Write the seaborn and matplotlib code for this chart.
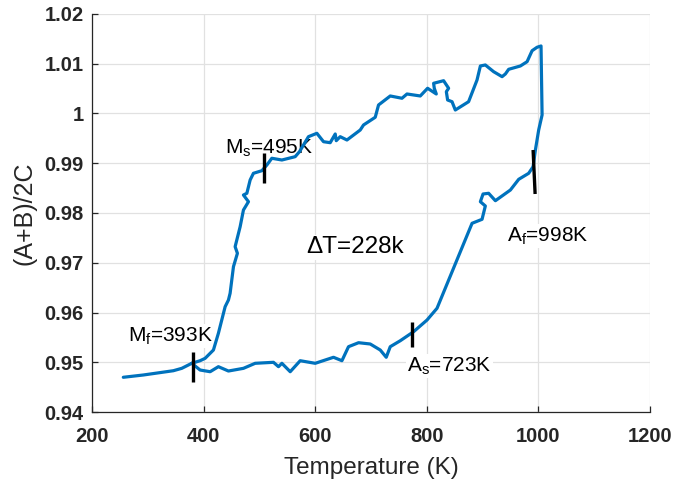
import numpy as np
import pandas as pd
import matplotlib
matplotlib.use("Agg")
import matplotlib.pyplot as plt
import seaborn as sns

# Hysteresis loop: one continuous trace of (A+B)/2C against temperature
temperature = [
    256.1, 292.0, 345.8, 360.9, 378.8,
    393.7, 411.7, 426.5, 444.5, 471.4, 492.4, 525.2, 534.2, 540.3, 555.2,
    573.1, 600.0, 632.8, 647.9, 659.7, 677.7, 698.6, 716.6, 727.3, 734.5,
    752.5, 776.3, 800.4, 818.3, 881.1, 899.0, 904.9, 896.0, 900.8, 910.8,
    922.9, 949.8, 964.7, 982.6, 990.5, 994.6, 1000.5, 1006.6,
    1004.7, 997.6, 988.7, 979.7, 967.7, 946.7, 940.8, 934.9, 919.8, 904.9,
    896.0, 890.0, 874.9, 851.1, 845.2, 837.3, 835.0, 839.1, 830.1, 812.2,
    813.4, 817.0, 801.4, 788.3, 764.5, 755.5, 734.5, 713.5, 707.6, 686.6,
    680.7, 656.9, 644.8, 637.7, 635.9, 626.9, 614.9, 603.0, 587.9, 571.8,
    564.1, 540.3, 522.3, 513.4, 504.4, 489.3, 483.4, 477.5, 471.4, 480.4,
    471.4, 465.5, 456.5, 460.6, 453.5, 447.5, 444.5, 438.6, 426.5, 417.6,
    402.7, 393.7, 378.8,
]
ratio = [
    0.94698, 0.94744, 0.94830, 0.94878, 0.94979,
    0.94844, 0.94810, 0.94911, 0.94824, 0.94878, 0.94979, 0.94999, 0.94911,
    0.94979, 0.94810, 0.95031, 0.94979, 0.95100, 0.95031, 0.95313, 0.95393,
    0.95367, 0.95246, 0.95100, 0.95313, 0.95433, 0.95614, 0.95849, 0.96085,
    0.97793, 0.97873, 0.98141, 0.98227, 0.98382, 0.98396, 0.98247, 0.98462,
    0.98677, 0.98798, 0.98931, 0.99266, 0.99668, 0.99970,
    1.01357, 1.01331, 1.01262, 1.01041, 1.00955, 1.00888, 1.00794, 1.00740,
    1.00840, 1.00975, 1.00955, 1.00673, 1.00237, 1.00070, 1.00237, 1.00271,
    1.00438, 1.00507, 1.00659, 1.00607, 1.00507, 1.00392, 1.00507, 1.00352,
    1.00392, 1.00306, 1.00352, 1.00171, 0.99924, 0.99769, 0.99668, 0.99467,
    0.99534, 0.99453, 0.99588, 0.99413, 0.99433, 0.99602, 0.99534, 0.99232,
    0.99132, 0.99065, 0.99100, 0.98965, 0.98850, 0.98798, 0.98663, 0.98396,
    0.98362, 0.98227, 0.98060, 0.97725, 0.97323, 0.97190, 0.96921, 0.96386,
    0.96251, 0.96117, 0.95582, 0.95246, 0.95079, 0.95031, 0.94979,
]

# Transformation temperature markers (short vertical bars)
marker_T_top = [380.6, 509.1, 774.0, 990.5]
marker_T_bottom = [380.6, 509.1, 774.0, 994.1]
marker_top = [0.95206, 0.99206, 0.95815, 0.99266]
marker_bottom = [0.94603, 0.98603, 0.95313, 0.98382]

# Annotation texts, anchor points and stacking order of their white boxes
labels = [r"$\mathregular{M_f}$=393K", r"$\mathregular{M_s}$=495K",
          r"$\mathregular{A_s}$=723K", r"$\mathregular{A_f}$=998K", "ΔT=228k"]
label_T = [264.6, 438.6, 765.0, 944.4, 583.9]
label_v = [0.95413, 0.99186, 0.94810, 0.97423, 0.97190]
label_z = [2.5, 2.5, 4.0, 2.5, 2.5]

x_ticks = [200, 400, 600, 800, 1000, 1200]
y_ticks = [0.94, 0.95, 0.96, 0.97, 0.98, 0.99, 1.00, 1.01, 1.02]
y_tick_labels = ["0.94", "0.95", "0.96", "0.97", "0.98", "0.99", "1", "1.01", "1.02"]

sns.set_theme(style="whitegrid")
plt.rcParams["font.family"] = ["Liberation Sans", "DejaVu Sans"]
plt.rcParams["mathtext.fontset"] = "custom"
plt.rcParams["mathtext.rm"] = "Liberation Sans"

fig = plt.figure(figsize=(6.74, 4.82), dpi=100)
ax = fig.add_axes([0.1365, 0.1452, 0.8279, 0.8258])

df = pd.DataFrame({"T": temperature, "v": ratio})
sns.lineplot(data=df, x="T", y="v", sort=False, estimator=None,
             color="#0072BD", linewidth=2.3, ax=ax, zorder=3)

# black bars cross over the curve
for t0, t1, y0, y1 in zip(marker_T_top, marker_T_bottom, marker_top, marker_bottom):
    ax.plot([t0, t1], [y0, y1], color="black", linewidth=2.4, zorder=3.5,
            solid_capstyle="butt")

for txt, tx, ty, z in zip(labels, label_T, label_v, label_z):
    size = 17.5 if txt.startswith("Δ") else 15
    ax.text(tx, ty, txt, fontsize=size, color="black", ha="left", va="baseline",
            zorder=z,
            bbox=dict(facecolor="white", edgecolor="none", pad=1.0))

ax.set_xlim(200, 1200)
ax.set_ylim(0.94, 1.02)
ax.set_xticks(x_ticks)
ax.set_yticks(y_ticks)
ax.set_yticklabels(y_tick_labels)
ax.set_xticklabels([str(t) for t in x_ticks])

ax.grid(True, color="#e1e1e1", linewidth=0.9, zorder=1)
ax.set_axisbelow(True)
for side in ["top", "right"]:
    ax.spines[side].set_visible(False)
for side in ["left", "bottom"]:
    ax.spines[side].set_visible(True)
    ax.spines[side].set_color("#262626")
    ax.spines[side].set_linewidth(0.9)

ax.tick_params(axis="both", which="major", direction="in", length=4, width=0.9,
               color="#262626", labelsize=14.5, labelcolor="#262626",
               bottom=True, left=True)
ax.tick_params(axis="x", pad=11)
ax.tick_params(axis="y", pad=6)
for lab in ax.get_xticklabels() + ax.get_yticklabels():
    lab.set_fontweight("bold")

ax.set_xlabel("Temperature (K)", fontsize=17.5, color="#262626", labelpad=8)
ax.set_ylabel("(A+B)/2C", fontsize=18, color="#262626", labelpad=6)

fig.savefig("out.png", dpi=100)
